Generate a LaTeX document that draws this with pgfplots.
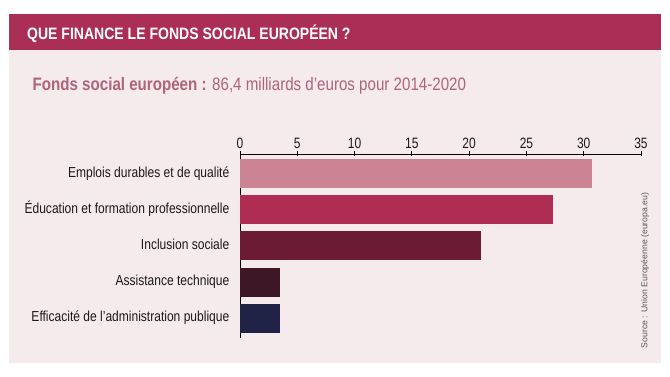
\documentclass[border=0pt]{standalone}
\usepackage{fontspec}
\setmainfont{Liberation Sans}
\newfontfamily\condT{Liberation Sans}[FakeStretch=0.85]
\newfontfamily\condS{Liberation Sans}[FakeStretch=0.84]
\newfontfamily\condL{Liberation Sans}[FakeStretch=0.83]
\newfontfamily\condN{Liberation Sans}[FakeStretch=0.80]
\newfontfamily\srcfont{Liberation Sans}
\usepackage{pgfplots}
\pgfplotsset{compat=1.18}
\definecolor{hdr}{HTML}{AA2E55}
\definecolor{panel}{HTML}{F5EAEC}
\definecolor{sub}{HTML}{AF6479}
\definecolor{txt}{HTML}{1A1A1A}
\definecolor{barA}{HTML}{CC8494}
\definecolor{barB}{HTML}{AF2C52}
\definecolor{barC}{HTML}{6B1B33}
\definecolor{barD}{HTML}{3D1726}
\definecolor{barE}{HTML}{212346}
\begin{document}
\begin{tikzpicture}[x=1pt,y=1pt]
\fill[white] (0,0) rectangle (670,377);
\fill[panel] (9,14) rectangle (661,327);
\fill[hdr] (9,327) rectangle (661,363);
\node[anchor=base west, inner sep=0pt, text=white, font=\condT\bfseries\fontsize{16.5}{19}\selectfont] at (27,337) {QUE FINANCE LE FONDS SOCIAL EUROPÉEN ?};
\node[anchor=base west, inner sep=0pt, text=sub, font=\condS\fontsize{18}{21}\selectfont] at (32.5,286) {\textbf{Fonds social européen :} 86,4 milliards d’euros pour 2014-2020};
\node[rotate=90, inner sep=0pt, text=black!65, font=\srcfont\fontsize{8.7}{10}\selectfont] at (645,106.5) {Source : Union Européenne (europa.eu)};
\begin{axis}[
  at={(240pt,39pt)}, anchor=south west,
  scale only axis, width=401pt, height=184pt,
  xmin=0, xmax=35, ymin=-0.54, ymax=4.54,
  axis x line=top, axis y line=left,
  axis line style={-, black, line width=0.9pt},
  xtick={0,5,10,15,20,25,30,35},
  ytick={0,1,2,3,4},
  yticklabels={Efficacité de l’administration publique, Assistance technique, Inclusion sociale, Éducation et formation professionnelle, Emplois durables et de qualité},
  y tick style={draw=none},
  x tick style={black, line width=0.9pt},
  xtick align=center, major tick length=5pt,
  /pgf/number format/assume math mode=true,
  xticklabel style={font=\condN\fontsize{15}{17}\selectfont, text=txt, inner sep=0pt, yshift=3pt},
  yticklabel style={font=\condL\fontsize{14.5}{17}\selectfont, text=txt, inner sep=0pt, anchor=base east, xshift=-8pt, yshift=-3.5pt},
]
\addplot[xbar, bar shift=0pt, bar width=29pt, fill=barA, draw=none] coordinates {(30.7,4)};
\addplot[xbar, bar shift=0pt, bar width=29pt, fill=barB, draw=none] coordinates {(27.3,3)};
\addplot[xbar, bar shift=0pt, bar width=29pt, fill=barC, draw=none] coordinates {(21.0,2)};
\addplot[xbar, bar shift=0pt, bar width=29pt, fill=barD, draw=none] coordinates {(3.5,1)};
\addplot[xbar, bar shift=0pt, bar width=29pt, fill=barE, draw=none] coordinates {(3.5,0)};
\end{axis}
\end{tikzpicture}
\end{document}
